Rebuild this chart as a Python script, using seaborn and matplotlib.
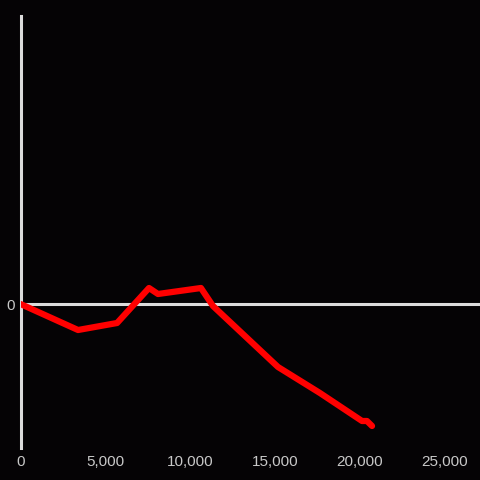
import matplotlib
matplotlib.use("Agg")
import matplotlib.pyplot as plt
import seaborn as sns
import pandas as pd
from matplotlib.ticker import FuncFormatter

# Data
x_vals = [0, 3390, 5690, 7570, 8100, 10630, 11340, 15170, 17640, 20120, 20410, 20710]
y_vals = [0, -26, -19, 16, 10, 16, -2, -63, -89, -117, -117, -122]
x_ticks = [0, 5000, 10000, 15000, 20000, 25000]
y_ticks = [0]

bg = "#050305"
axis_col = "#dcdcdc"
text_col = "#c8c8c8"

sns.set_theme(style="dark")
plt.rcParams['font.family'] = ['Liberation Sans', 'DejaVu Sans']

fig = plt.figure(figsize=(4.8, 4.8), dpi=100, facecolor=bg)
ax = fig.add_axes([20.5 / 480, (480 - 448) / 480, (480 - 20.5) / 480, (448 - 16) / 480])
ax.set_facecolor(bg)

df = pd.DataFrame({"x": x_vals, "y": y_vals})
sns.lineplot(data=df, x="x", y="y", ax=ax, color="#ff0000", linewidth=4.5,
             sort=False, estimator=None, zorder=3)

ax.axhline(0, color=axis_col, linewidth=2.2, zorder=2)
ax.set_xlim(0, 27070)
ax.set_ylim(-144, 288)

for s in ["top", "right", "bottom"]:
    ax.spines[s].set_visible(False)
ax.spines["left"].set_color(axis_col)
ax.spines["left"].set_linewidth(2.2)
ax.spines["left"].set_visible(True)

ax.set_xticks(x_ticks)
ax.set_yticks(y_ticks)
ax.xaxis.set_major_formatter(FuncFormatter(lambda v, p: f"{int(v):,}"))
ax.tick_params(axis="both", length=0, colors=text_col, labelsize=11)
ax.tick_params(axis="x", pad=5)
ax.tick_params(axis="y", pad=4)
ax.grid(False)
ax.set_xlabel("")
ax.set_ylabel("")

fig.savefig("out.png", dpi=100, facecolor=bg)
